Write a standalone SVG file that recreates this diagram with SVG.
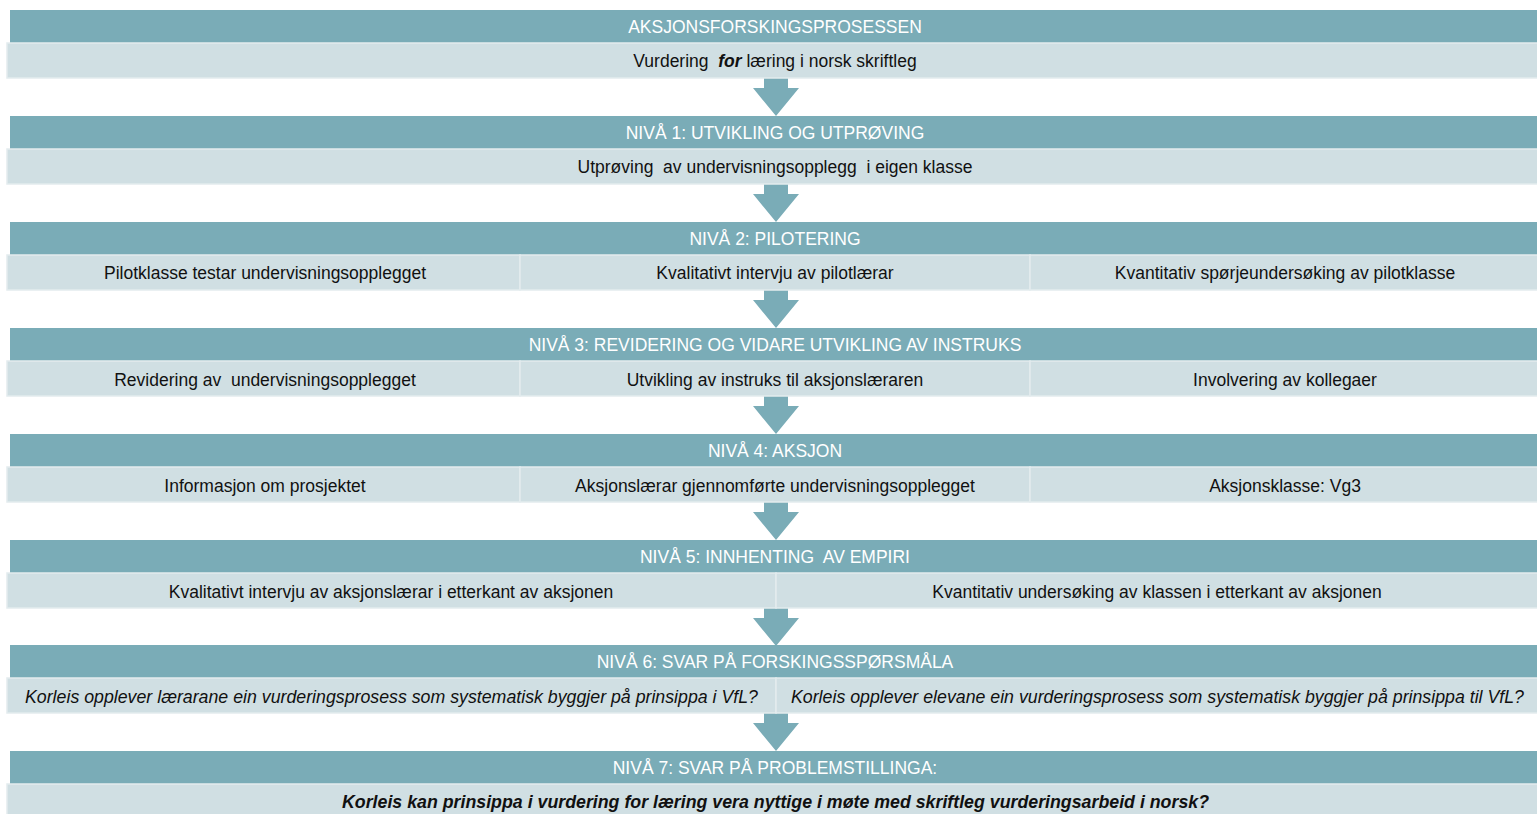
<svg xmlns="http://www.w3.org/2000/svg" xmlns:xlink="http://www.w3.org/1999/xlink" width="1537" height="814" viewBox="0 0 1537 814">
<style>
text{font-family:"Liberation Sans",Arial,sans-serif;font-size:17.5px;text-anchor:middle}
.hd{fill:#7AACB7}
.cl{fill:#D0DFE3;stroke:#E3ECEE;stroke-width:1.5}
.ht{fill:#FFFFFF}
.ct{fill:#111111}
.it{font-style:italic}
.bi{font-style:italic;font-weight:bold}
.arr{fill:#7AACB7}
</style>
<defs>
<path id="arr" d="M764,0 H788 V10 H799 L776,38 L753,10 H764 Z"/>
</defs>
<rect width="1537" height="814" fill="#FFFFFF"/>
<g id="connectors">
<use xlink:href="#arr" href="#arr" class="arr" y="78"/>
<use xlink:href="#arr" href="#arr" class="arr" y="184"/>
<use xlink:href="#arr" href="#arr" class="arr" y="290"/>
<use xlink:href="#arr" href="#arr" class="arr" y="396"/>
<use xlink:href="#arr" href="#arr" class="arr" y="502"/>
<use xlink:href="#arr" href="#arr" class="arr" y="608"/>
<use xlink:href="#arr" href="#arr" class="arr" y="713"/>
</g>
<g id="row0">
<rect class="hd" x="10" y="10" width="1530" height="33"/>
<text class="ht" x="775" y="33">AKSJONSFORSKINGSPROSESSEN</text>
<rect class="cl" x="7" y="43" width="1533" height="35"/>
<text class="ct" x="775" y="67" xml:space="preserve">Vurdering  <tspan class="bi">for</tspan> læring i norsk skriftleg</text>
</g>
<g id="row1">
<rect class="hd" x="10" y="116" width="1530" height="33"/>
<text class="ht" x="775" y="139">NIVÅ 1: UTVIKLING OG UTPRØVING</text>
<rect class="cl" x="7" y="149" width="1533" height="35"/>
<text class="ct" x="775" y="173" xml:space="preserve">Utprøving  av undervisningsopplegg  i eigen klasse</text>
</g>
<g id="row2">
<rect class="hd" x="10" y="222" width="1530" height="33"/>
<text class="ht" x="775" y="245">NIVÅ 2: PILOTERING</text>
<rect class="cl" x="7" y="255" width="513" height="35"/>
<rect class="cl" x="520" y="255" width="510" height="35"/>
<rect class="cl" x="1030" y="255" width="510" height="35"/>
<text class="ct" x="265" y="279">Pilotklasse testar undervisningsopplegget</text>
<text class="ct" x="775" y="279">Kvalitativt intervju av pilotlærar</text>
<text class="ct" x="1285" y="279">Kvantitativ spørjeundersøking av pilotklasse</text>
</g>
<g id="row3">
<rect class="hd" x="10" y="328" width="1530" height="33"/>
<text class="ht" x="775" y="351">NIVÅ 3: REVIDERING OG VIDARE UTVIKLING AV INSTRUKS</text>
<rect class="cl" x="7" y="361" width="513" height="35"/>
<rect class="cl" x="520" y="361" width="510" height="35"/>
<rect class="cl" x="1030" y="361" width="510" height="35"/>
<text class="ct" x="265" y="386" xml:space="preserve">Revidering av  undervisningsopplegget</text>
<text class="ct" x="775" y="386">Utvikling av instruks til aksjonslæraren</text>
<text class="ct" x="1285" y="386">Involvering av kollegaer</text>
</g>
<g id="row4">
<rect class="hd" x="10" y="434" width="1530" height="33"/>
<text class="ht" x="775" y="457">NIVÅ 4: AKSJON</text>
<rect class="cl" x="7" y="467" width="513" height="35"/>
<rect class="cl" x="520" y="467" width="510" height="35"/>
<rect class="cl" x="1030" y="467" width="510" height="35"/>
<text class="ct" x="265" y="492">Informasjon om prosjektet</text>
<text class="ct" x="775" y="492">Aksjonslærar gjennomførte undervisningsopplegget</text>
<text class="ct" x="1285" y="492">Aksjonsklasse: Vg3</text>
</g>
<g id="row5">
<rect class="hd" x="10" y="540" width="1530" height="33"/>
<text class="ht" x="775" y="563" xml:space="preserve">NIVÅ 5: INNHENTING  AV EMPIRI</text>
<rect class="cl" x="7" y="573" width="769" height="35"/>
<rect class="cl" x="776" y="573" width="764" height="35"/>
<text class="ct" x="391" y="598">Kvalitativt intervju av aksjonslærar i etterkant av aksjonen</text>
<text class="ct" x="1157" y="598">Kvantitativ undersøking av klassen i etterkant av aksjonen</text>
</g>
<g id="row6">
<rect class="hd" x="10" y="645" width="1530" height="33"/>
<text class="ht" x="775" y="668">NIVÅ 6: SVAR PÅ FORSKINGSSPØRSMÅLA</text>
<rect class="cl" x="7" y="678" width="769" height="35"/>
<rect class="cl" x="776" y="678" width="764" height="35"/>
<text class="ct it" x="391.5" y="703" textLength="733" lengthAdjust="spacingAndGlyphs">Korleis opplever lærarane ein vurderingsprosess som systematisk byggjer på prinsippa i VfL?</text>
<text class="ct it" x="1157.5" y="703" textLength="733" lengthAdjust="spacingAndGlyphs">Korleis opplever elevane ein vurderingsprosess som systematisk byggjer på prinsippa til VfL?</text>
</g>
<g id="row7">
<rect class="hd" x="10" y="751" width="1530" height="33"/>
<text class="ht" x="775" y="774">NIVÅ 7: SVAR PÅ PROBLEMSTILLINGA:</text>
<rect class="cl" x="7" y="784" width="1533" height="35"/>
<text class="ct bi" x="775.5" y="808" textLength="867" lengthAdjust="spacingAndGlyphs">Korleis kan prinsippa i vurdering for læring vera nyttige i møte med skriftleg vurderingsarbeid i norsk?</text>
</g>
</svg>
